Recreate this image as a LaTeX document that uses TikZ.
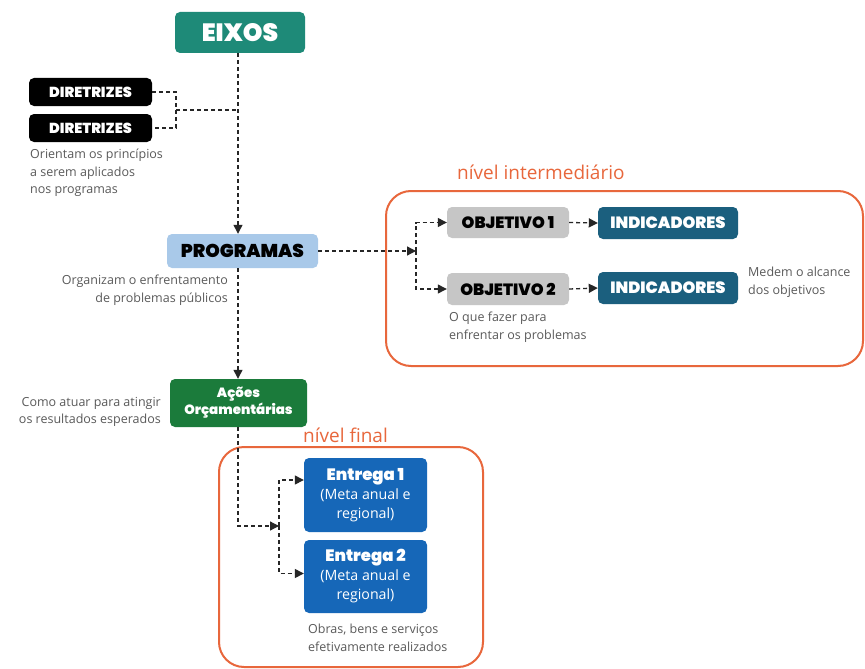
\documentclass[tikz,border=0pt]{standalone}
\usepackage{fontspec}
\setmainfont{Open Sans}
\newfontfamily\hd{Poppins Black}
\usetikzlibrary{arrows.meta,positioning}
\definecolor{cteal}{HTML}{1E8A78}
\definecolor{cprog}{HTML}{A9C9E9}
\definecolor{cobj}{HTML}{C6C6C6}
\definecolor{cind}{HTML}{1B5F7E}
\definecolor{cacao}{HTML}{1B7B3B}
\definecolor{cent}{HTML}{1667B8}
\definecolor{corange}{HTML}{E8673C}
\definecolor{cgray}{HTML}{5A5A5A}
\tikzset{
  boxbase/.style={rounded corners=5pt,inner sep=0pt,align=center,font=\hd},
  dl/.style={draw=black!85,line width=1.3pt,dash pattern=on 4pt off 3pt},
  arr/.style={-{Triangle[width=9pt,length=9pt]}},
  note/.style={text=cgray,font=\fontsize{12.5}{17.5}\selectfont,inner sep=0pt},
  frame/.style={draw=corange,line width=2pt,rounded corners=25pt},
  lvl/.style={text=corange,font=\fontsize{19}{22}\selectfont,inner sep=0pt,anchor=west},
}
\begin{document}
\begin{tikzpicture}[x=1pt,y=-1pt]
\path[use as bounding box,fill=white] (0,0) rectangle (865,669);
\coordinate (spine) at (238,0);
% frames
\draw[frame] (386,191) rectangle (863,366);
\draw[frame] (219,447) rectangle (483,667);
\node[lvl] (lv1) at (457,172) {nível intermediário};
\node[lvl] (lv2) at (303,435) {nível final};
% boxes
\node[boxbase,fill=cteal,text=white,minimum width=130pt,minimum height=41pt,font=\hd\fontsize{25}{26}\selectfont] (eixos) at (240,32.5) {EIXOS};
\node[boxbase,fill=black,text=white,minimum width=123pt,minimum height=28pt,font=\hd\fontsize{14.5}{15}\selectfont] (d1) at (90.5,92) {DIRETRIZES};
\node[boxbase,fill=black,text=white,minimum width=123pt,minimum height=28pt,font=\hd\fontsize{14.5}{15}\selectfont] (d2) at (90.5,128) {DIRETRIZES};
\node[note,anchor=north west,align=left] (t1) at (30,149) {Orientam os princípios\\a serem aplicados\\nos programas};
\node[boxbase,fill=cprog,text=black,minimum width=151pt,minimum height=34pt,font=\hd\fontsize{18.5}{19}\selectfont] (prog) at (242.5,251) {PROGRAMAS};
\node[note,anchor=north east,align=right] (t2) at (228,275) {Organizam o enfrentamento\\de problemas públicos};
\node[boxbase,fill=cobj,text=black,minimum width=122pt,minimum height=31pt,font=\hd\fontsize{16.3}{17}\selectfont] (o1) at (508,222.5) {OBJETIVO 1};
\node[boxbase,fill=cobj,text=black,minimum width=122pt,minimum height=32pt,font=\hd\fontsize{16.3}{17}\selectfont] (o2) at (508,289) {OBJETIVO 2};
\node[boxbase,fill=cind,text=white,minimum width=140pt,minimum height=32pt,font=\hd\fontsize{16.3}{17}\selectfont] (i1) at (668,223) {INDICADORES};
\node[boxbase,fill=cind,text=white,minimum width=140pt,minimum height=32pt,font=\hd\fontsize{16.3}{17}\selectfont] (i2) at (668,288) {INDICADORES};
\node[note,anchor=north west,align=left] (t3) at (748,267) {Medem o alcance\\dos objetivos};
\node[note,anchor=north west,align=left] (t4) at (449,312) {O que fazer para\\enfrentar os problemas};
\node[boxbase,fill=cacao,text=white,minimum width=137pt,minimum height=48pt,font=\hd\fontsize{13.4}{17}\selectfont] (acao) at (238.5,403) {Ações\\Orçamentárias};
\node[note,anchor=north east,align=right] (t5) at (161,397) {Como atuar para atingir\\os resultados esperados};
\node[boxbase,fill=cent,text=white,minimum width=123pt,minimum height=74pt,font=\fontsize{14.2}{19}\selectfont] (e1) at (365.5,495) {{\hd\fontsize{16.5}{19}\selectfont Entrega 1}\\(Meta anual e\\regional)};
\node[boxbase,fill=cent,text=white,minimum width=123pt,minimum height=73pt,font=\fontsize{14.2}{19}\selectfont] (e2) at (365.5,576.5) {{\hd\fontsize{16.5}{19}\selectfont Entrega 2}\\(Meta anual e\\regional)};
\node[note,anchor=north west,align=left] (t6) at (308,624) {Obras, bens e serviços\\efetivamente realizados};
% connectors
\draw[dl,arr] (eixos.south -| spine) -- (prog.north -| spine);
\coordinate (dj) at (176,110);
\draw[dl] (d1.east) -| (dj) |- (d2.east);
\draw[dl] (dj) -- (dj -| spine);
\coordinate (oj) at (416,251);
\draw[dl,arr] (prog.east) -- (oj);
\draw[dl,arr] (oj) |- (o1.west);
\draw[dl,arr] (oj) |- (o2.west);
\draw[dl,arr] (o1.east) -- (i1.west);
\draw[dl,arr] (o2.east) -- (i2.west);
\draw[dl,arr] (prog.south -| spine) -- (acao.north -| spine);
\coordinate (ej) at (279,526);
\draw[dl,arr] (acao.south -| spine) |- (ej);
\draw[dl,arr] (ej) |- ([yshift=15pt]e1.west);
\draw[dl,arr] (ej) |- ([yshift=3pt]e2.west);
\end{tikzpicture}
\end{document}
